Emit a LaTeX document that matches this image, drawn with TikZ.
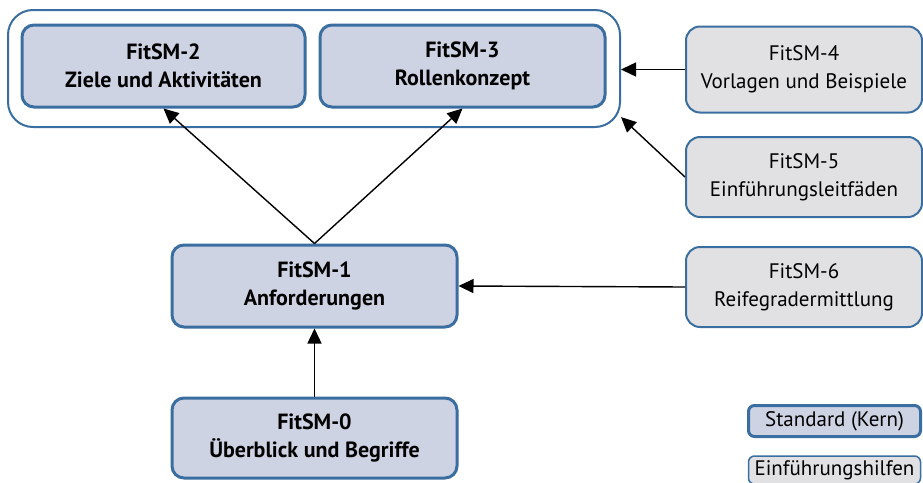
\documentclass[tikz,border=0pt]{standalone}
\usepackage{fontspec}
\setmainfont{PT Sans}
\usetikzlibrary{arrows.meta}
\definecolor{rahmen}{HTML}{3A6EA0}
\definecolor{kernfill}{HTML}{CDD3E3}
\definecolor{hilfefill}{HTML}{E1E1E3}
\tikzset{
  kern/.style={draw=rahmen, line width=3pt, fill=kernfill, rounded corners=12pt,
    align=center, font=\fontsize{22}{28}\selectfont\bfseries, inner sep=0pt},
  hilfe/.style={draw=rahmen, line width=2pt, fill=hilfefill, rounded corners=14pt,
    align=center, font=\fontsize{21}{28}\selectfont, inner sep=0pt},
  pfeil/.style={line width=1.4pt, -{Triangle[length=15pt,width=14pt]}}
}
\begin{document}
\begin{tikzpicture}[x=1pt,y=-1pt]
	\useasboundingbox (0,0) rectangle (923,482);
		\node[draw=rahmen, line width=2pt, fill=white, rounded corners=25pt,
		      minimum width=612pt, minimum height=117pt] (grp) at (314,68.5) {};
		\node[kern, minimum width=283pt, minimum height=82pt] (fit2) at (163.5,66) {FitSM-2\\Ziele und Aktivitäten};
		\node[kern, minimum width=285pt, minimum height=82pt] (fit3) at (462.5,66) {FitSM-3\\Rollenkonzept};
		\node[kern, minimum width=285pt, minimum height=82pt] (fit1) at (314.5,286) {FitSM-1\\Anforderungen};
		\node[kern, minimum width=285pt, minimum height=80pt] (fit0) at (314.5,438) {FitSM-0\\Überblick und Begriffe};
		\node[hilfe, minimum width=236pt, minimum height=86pt] (fit4) at (804,69.5) {FitSM-4\\Vorlagen und Beispiele};
		\node[hilfe, minimum width=236pt, minimum height=80pt] (fit5) at (804,177) {FitSM-5\\Einführungsleitfäden};
		\node[hilfe, minimum width=236pt, minimum height=80pt] (fit6) at (804,287) {FitSM-6\\Reifegradermittlung};
		% Legende
		\node[kern, font=\fontsize{21}{24}\selectfont, rounded corners=6pt,
		      minimum width=172pt, minimum height=31pt] (lkern) at (834.5,421) {Standard (Kern)};
		\node[hilfe, rounded corners=6pt, line width=1.5pt,
		      minimum width=172pt, minimum height=28pt] (lhilfe) at (834.5,470) {Einführungshilfen};
		\path[pfeil] (fit1.north) edge (fit2.south);
		\path[pfeil] (fit1.north) edge (fit3.south);
		\path[pfeil] (fit0.north) edge (fit1.south);
		\path[pfeil] (fit6.west) edge (fit1.east);
		\path[pfeil] (fit4.west) edge (grp.east |- fit4.west);
		\path[pfeil] (fit5.west) edge (grp.-9);
	\end{tikzpicture}
\end{document}
